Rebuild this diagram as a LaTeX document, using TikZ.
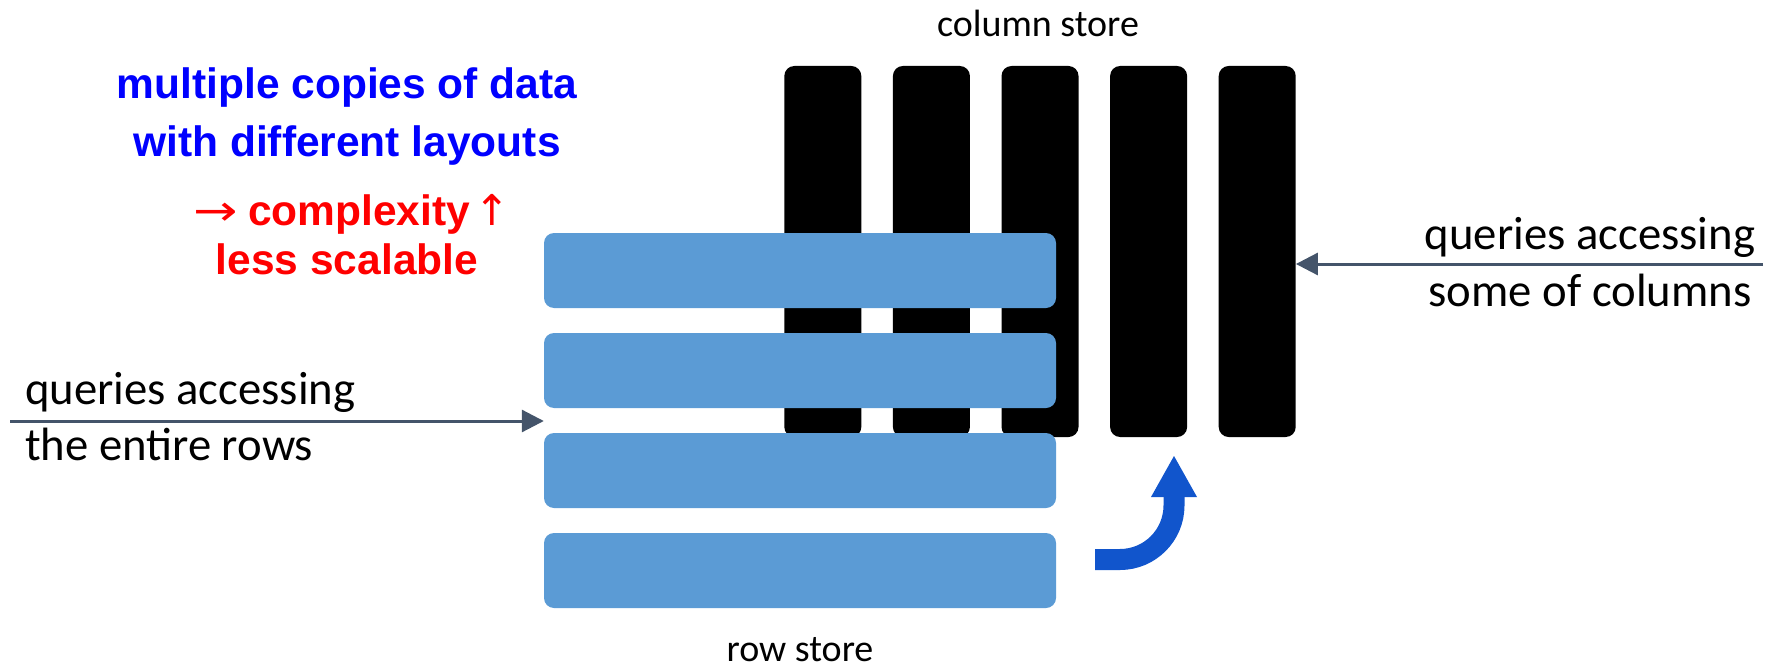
\documentclass[tikz,border=0pt]{standalone}
\usepackage{fontspec}
\usepackage{graphicx}
\usetikzlibrary{arrows.meta}
\newfontfamily\labelfont{Carlito}
\newfontfamily\headfont{Liberation Sans}
\newfontfamily\symfont{DejaVu Sans}
\definecolor{rowblue}{HTML}{5B9BD5}
\definecolor{arrowblue}{HTML}{1155CC}
\definecolor{slate}{HTML}{44546A}
\definecolor{headblue}{HTML}{0000FF}
\definecolor{headred}{HTML}{FF0000}
\tikzset{
  colbar/.style={fill=black, rounded corners=10pt, minimum width=77pt,
    minimum height=371pt, inner sep=0pt},
  rowbar/.style={fill=rowblue, rounded corners=10pt, minimum width=512pt,
    minimum height=75pt, inner sep=0pt},
  caption/.style={inner sep=0pt, anchor=base,
    font=\labelfont\fontsize{38}{46}\selectfont},
  qlabel/.style={inner sep=0pt, font=\labelfont\fontsize{46.7}{57}\selectfont},
  headline/.style={inner sep=0pt, anchor=base,
    font=\headfont\bfseries\fontsize{42.5}{50}\selectfont},
  qarrow/.style={draw=slate, line width=3pt,
    -{Triangle[length=22pt,width=22pt]}},
}
\begin{document}
\begin{tikzpicture}[x=1pt,y=-1pt]
\useasboundingbox (0,0) rectangle (1775,666);

% column store: five tall black bars
\node[colbar] (c1) at (822.8,251.5) {};
\node[colbar] (c2) at (931.4,251.5) {};
\node[colbar] (c3) at (1040,251.5) {};
\node[colbar] (c4) at (1148.6,251.5) {};
\node[colbar] (c5) at (1257.2,251.5) {};
\node[caption] (colcap) at (1038,36.7) {column store};

% row store: four wide blue bars laid over the columns
\node[rowbar] (r1) at (800,270.5) {};
\node[rowbar] (r2) at (800,370.5) {};
\node[rowbar] (r3) at (800,470.5) {};
\node[rowbar] (r4) at (800,570.5) {};
\node[caption, text depth=0pt] (rowcap) at (800,661) {row store};

% heading
\node[headline, text=headblue] (h1) at (347,99) {multiple copies of data};
\node[headline, text=headblue] (h2) at (347,157) {with different layouts};
\node[headline, text=headred, anchor=base west] (h3) at (193,225)
  {\makebox[55pt][l]{\symfont\mdseries\scalebox{1.25}[1]{→}}complexity%
   \makebox[44pt][c]{\symfont\mdseries ↑}};
\node[headline, text=headred] (h4) at (347,274) {less scalable};

% row-oriented queries
\node[qlabel, anchor=base west] (ql1) at (25,404) {queries accessing};
\node[qlabel, anchor=base west] (ql2) at (25,460) {the entire rows};
\coordinate (qlstart) at (10,421);
\draw[qarrow] (qlstart) -- (qlstart -| r3.west);

% column-oriented queries
\node[qlabel, anchor=base] (qr1) at (1590,249) {queries accessing};
\node[qlabel, anchor=base] (qr2) at (1590,306) {some of columns};
\coordinate (qrstart) at (1763,264);
\draw[qarrow] (qrstart) -- (qrstart -| c5.east);

% conversion arrow from rows to columns
\coordinate (bstart) at (1095,559.5);
\coordinate (bbend) at (1174,497);
\draw[arrowblue, line width=21pt] (bstart) -- (1120,559.5)
  .. controls (1149.8,559.5) and (1174,535.3) .. (1174,505.5) -- (bbend);
\fill[arrowblue] (1151,497) -- (1174,456) -- (1197,497) -- cycle;
\end{tikzpicture}
\end{document}
